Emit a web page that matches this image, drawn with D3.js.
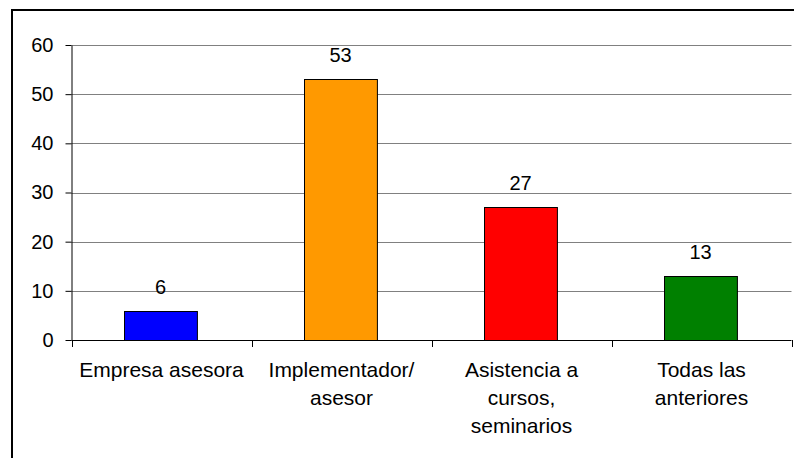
<!DOCTYPE html>
<html>
<head>
<meta charset="utf-8">
<script src="https://cdn.jsdelivr.net/npm/d3@7"></script>
<style>
  body { margin: 0; background: #fff; }
  svg { display: block; font-family: "Liberation Sans", Arial, sans-serif; }
</style>
</head>
<body>
<div id="chart"></div>
<script>
// chart data
var categories = ["Empresa asesora", "Implementador/\nasesor", "Asistencia a\ncursos,\nseminarios", "Todas las\nanteriores"];
var values = [6, 53, 27, 13];
var barColors = ["#0000ff", "#ff9900", "#ff0000", "#008000"];
var yTicks = [0, 10, 20, 30, 40, 50, 60];

var W = 794, H = 458;
var plotLeft = 71.5, plotRight = 791.5, plotTop = 45, plotBottom = 340;

var svg = d3.select("#chart").append("svg")
    .attr("width", W)
    .attr("height", H);

// outer frame (runs off the right/bottom edge like the original)
svg.append("rect")
    .attr("x", 12).attr("y", 10)
    .attr("width", W + 20).attr("height", H + 20)
    .attr("fill", "#fff")
    .attr("stroke", "#000")
    .attr("stroke-width", 2);

var x = d3.scaleBand()
    .domain(categories)
    .range([plotLeft, plotRight])
    .padding(0);

var y = d3.scaleLinear()
    .domain([0, 60])
    .range([plotBottom, plotTop]);

// gridlines
svg.append("g")
    .selectAll("line")
    .data(yTicks.filter(function (d) { return d > 0; }))
    .enter().append("line")
    .attr("x1", plotLeft).attr("x2", plotRight)
    .attr("y1", function (d) { return Math.round(y(d)) + 0.5; })
    .attr("y2", function (d) { return Math.round(y(d)) + 0.5; })
    .attr("stroke", "#808080")
    .attr("stroke-width", 1);

// y axis
var yAxis = svg.append("g")
    .attr("transform", "translate(" + plotLeft + ",0)")
    .call(d3.axisLeft(y).tickValues(yTicks).tickSize(6).tickSizeOuter(0).tickPadding(12));
yAxis.select(".domain").attr("stroke", "#000");
yAxis.selectAll(".tick line").attr("stroke", "#000");
yAxis.selectAll("text")
    .attr("font-size", 20)
    .attr("fill", "#000")
    .attr("font-family", "Liberation Sans, Arial, sans-serif");

// bars
var barW = x.bandwidth() * 0.405;
svg.append("g")
    .selectAll("rect")
    .data(values)
    .enter().append("rect")
    .attr("x", function (d, i) { return Math.round(x(categories[i]) + x.bandwidth() / 2 - barW / 2 - 1) + 0.5; })
    .attr("y", function (d) { return Math.round(y(d)) + 0.5; })
    .attr("width", barW)
    .attr("height", function (d) { return Math.round(y(0)) - Math.round(y(d)); })
    .attr("fill", function (d, i) { return barColors[i]; })
    .attr("stroke", "#000")
    .attr("stroke-width", 1);

// value labels
svg.append("g")
    .selectAll("text")
    .data(values)
    .enter().append("text")
    .attr("x", function (d, i) { return x(categories[i]) + x.bandwidth() / 2 - 1; })
    .attr("y", function (d) { return y(d) - 17; })
    .attr("text-anchor", "middle")
    .attr("font-size", 20)
    .attr("fill", "#000")
    .text(function (d) { return d; });

// x axis with ticks at band edges
var xg = svg.append("g");
xg.append("line")
    .attr("x1", plotLeft).attr("x2", plotRight)
    .attr("y1", plotBottom + 0.5).attr("y2", plotBottom + 0.5)
    .attr("stroke", "#000");
xg.selectAll(".edge")
    .data(categories.concat([null]))
    .enter().append("line")
    .attr("class", "edge")
    .attr("x1", function (d, i) { return Math.round(plotLeft + i * x.step()) + 0.5; })
    .attr("x2", function (d, i) { return Math.round(plotLeft + i * x.step()) + 0.5; })
    .attr("y1", plotBottom).attr("y2", plotBottom + 7)
    .attr("stroke", "#000");

// category labels
var lab = svg.append("g")
    .selectAll("text")
    .data(categories)
    .enter().append("text")
    .attr("text-anchor", "middle")
    .attr("font-size", 21)
    .attr("fill", "#000");
lab.each(function (d) {
    var t = d3.select(this);
    d.split("\n").forEach(function (line, j) {
        t.append("tspan")
            .attr("x", x(d) + x.bandwidth() / 2)
            .attr("y", 377 + j * 28)
            .text(line);
    });
});
</script>
</body>
</html>
